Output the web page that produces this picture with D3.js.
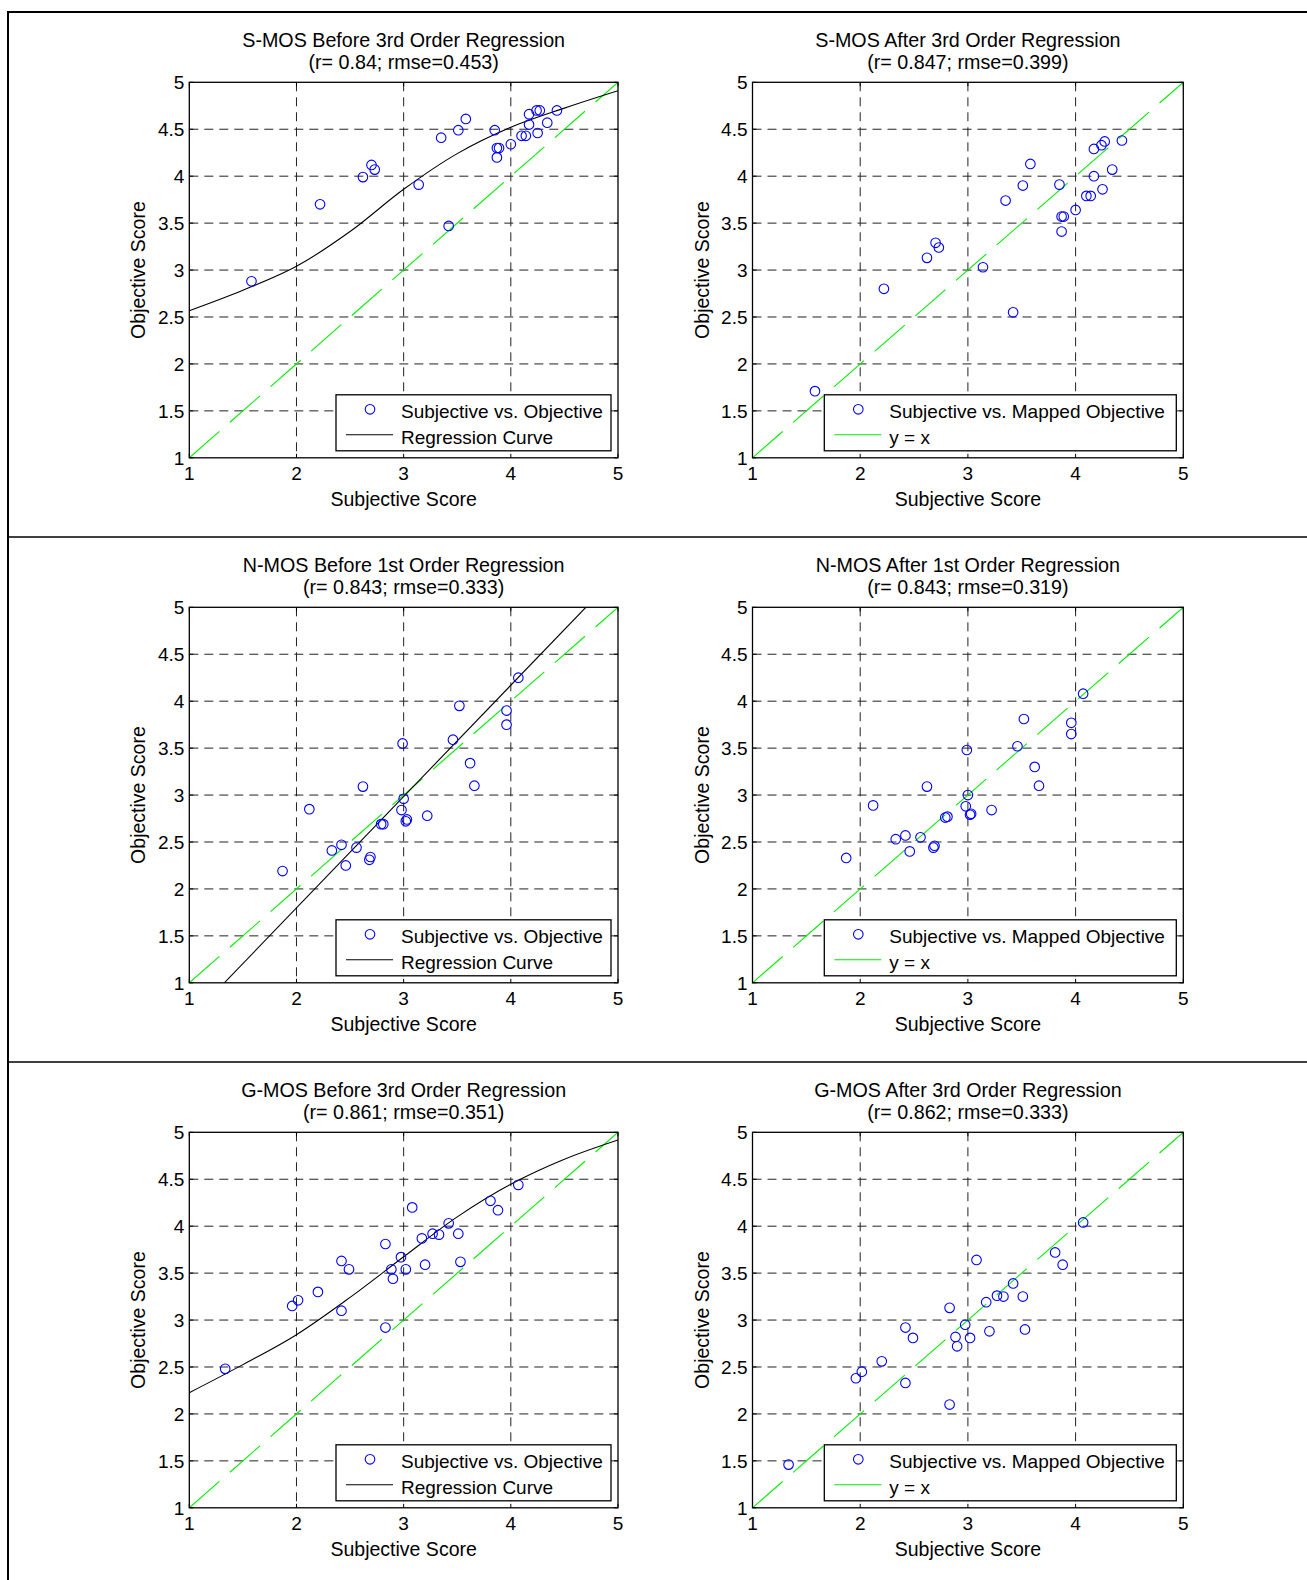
<!DOCTYPE html>
<html>
<head>
<meta charset="utf-8">
<script src="https://cdn.jsdelivr.net/npm/d3@7"></script>
<style>
  html, body { margin: 0; padding: 0; background: #fff; }
  svg text { font-family: "Liberation Sans", Arial, Helvetica, sans-serif; fill: #000; }
</style>
</head>
<body>
<svg id="chart" width="1307" height="1580"></svg>
<script>
// ---------------- DATA ----------------
const xTickValues = [1, 2, 3, 4, 5];
const xTickLabels = ["1", "2", "3", "4", "5"];
const yTickValues = [1, 1.5, 2, 2.5, 3, 3.5, 4, 4.5, 5];
const yTickLabels = ["1", "1.5", "2", "2.5", "3", "3.5", "4", "4.5", "5"];

const titlesBefore = ["S-MOS Before 3rd Order Regression", "N-MOS Before 1st Order Regression", "G-MOS Before 3rd Order Regression"];
const statsBefore = ["(r= 0.84; rmse=0.453)", "(r= 0.843; rmse=0.333)", "(r= 0.861; rmse=0.351)"];
const titlesAfter = ["S-MOS After 3rd Order Regression", "N-MOS After 1st Order Regression", "G-MOS After 3rd Order Regression"];
const statsAfter = ["(r= 0.847; rmse=0.399)", "(r= 0.843; rmse=0.319)", "(r= 0.862; rmse=0.333)"];

const legendBefore = ["Subjective vs. Objective", "Regression Curve"];
const legendAfter = ["Subjective vs. Mapped Objective", "y = x"];
const xAxisLabel = "Subjective Score";
const yAxisLabel = "Objective Score";

// S-MOS
const smosSubjective = [1.58, 2.22, 2.62, 2.70, 2.73, 3.14, 3.35, 3.51, 3.58, 3.42, 3.85, 3.87, 3.89, 3.87, 4.00, 4.10, 4.14, 4.17, 4.17, 4.24, 4.27, 4.25, 4.34, 4.43];
const smosObjectiveBefore = [2.88, 3.70, 3.99, 4.12, 4.07, 3.91, 4.41, 4.49, 4.61, 3.47, 4.49, 4.30, 4.30, 4.20, 4.34, 4.43, 4.43, 4.55, 4.66, 4.70, 4.70, 4.46, 4.57, 4.70];
const smosObjectiveAfter = [1.71, 2.80, 3.13, 3.29, 3.24, 3.03, 3.74, 3.90, 4.13, 2.55, 3.91, 3.57, 3.57, 3.41, 3.64, 3.79, 3.79, 4.00, 4.29, 4.33, 4.37, 3.86, 4.07, 4.38];
const smosCurveX = [1, 1.5, 2, 2.5, 3, 3.5, 4, 4.5, 5];
const smosCurveY = [2.567, 2.785, 3.04, 3.41, 3.86, 4.24, 4.52, 4.725, 4.91];

// N-MOS
const nmosSubjective = [1.87, 2.12, 2.33, 2.42, 2.46, 2.56, 2.62, 2.68, 2.69, 2.79, 2.81, 2.99, 3.00, 2.98, 3.03, 3.02, 3.22, 3.46, 3.52, 3.62, 3.66, 3.96, 3.96, 4.07];
const nmosObjectiveBefore = [2.19, 2.85, 2.41, 2.47, 2.25, 2.44, 3.09, 2.31, 2.34, 2.69, 2.69, 3.55, 2.96, 2.84, 2.74, 2.72, 2.78, 3.59, 3.95, 3.34, 3.10, 3.90, 3.75, 4.25];
const nmosObjectiveAfter = [2.33, 2.89, 2.53, 2.57, 2.40, 2.55, 3.09, 2.44, 2.46, 2.76, 2.77, 3.48, 3.00, 2.88, 2.80, 2.79, 2.84, 3.52, 3.81, 3.30, 3.10, 3.77, 3.65, 4.08];
const nmosCurveX = [1.327, 4.70];
const nmosCurveY = [1, 5];

// G-MOS
const gmosSubjective = [1.335, 1.96, 2.015, 2.20, 2.42, 2.49, 2.42, 2.83, 2.83, 2.885, 2.90, 2.975, 3.02, 3.08, 3.17, 3.27, 3.33, 3.20, 3.42, 3.51, 3.53, 3.81, 3.88, 4.07];
const gmosObjectiveBefore = [2.48, 3.15, 3.21, 3.30, 3.63, 3.54, 3.10, 3.81, 2.92, 3.54, 3.44, 3.67, 3.54, 4.20, 3.87, 3.92, 3.91, 3.59, 4.03, 3.92, 3.62, 4.27, 4.17, 4.44];
const gmosObjectiveAfter = [1.46, 2.38, 2.45, 2.56, 2.92, 2.81, 2.33, 3.13, 2.10, 2.82, 2.72, 2.95, 2.81, 3.64, 3.19, 3.26, 3.25, 2.88, 3.39, 3.25, 2.90, 3.72, 3.59, 4.04];
const gmosCurveX = [1, 1.5, 2, 2.5, 3, 3.5, 4, 4.5, 5];
const gmosCurveY = [2.226, 2.525, 2.844, 3.241, 3.674, 4.099, 4.447, 4.713, 4.918];

const identityX = [1, 5];
const identityY = [1, 5];

// ---------------- LAYOUT ----------------
const svg = d3.select("#chart");
const FONT = 19;
const TITLE_FONT = 19.7;
const LABEL_FONT = 19.5;
const rowStep = 525;
const colX = [[189.3, 618], [752.5, 1183.3]];
const plotTop0 = 82.3, plotH = 375.5;

const rows = [
  { subj: smosSubjective, before: smosObjectiveBefore, after: smosObjectiveAfter, cx: smosCurveX, cy: smosCurveY },
  { subj: nmosSubjective, before: nmosObjectiveBefore, after: nmosObjectiveAfter, cx: nmosCurveX, cy: nmosCurveY },
  { subj: gmosSubjective, before: gmosObjectiveBefore, after: gmosObjectiveAfter, cx: gmosCurveX, cy: gmosCurveY }
];

// outer frame lines
svg.append("line").attr("x1", 8).attr("x2", 1307).attr("y1", 12).attr("y2", 12).attr("stroke", "#000").attr("stroke-width", 2);
svg.append("line").attr("x1", 8).attr("x2", 8).attr("y1", 11).attr("y2", 1580).attr("stroke", "#000").attr("stroke-width", 2);
[1, 2].forEach(i => {
  svg.append("line").attr("x1", 8).attr("x2", 1307)
    .attr("y1", 12 + rowStep * i).attr("y2", 12 + rowStep * i)
    .attr("stroke", "#000").attr("stroke-width", 1.5);
});

let clipId = 0;
function drawPanel(col, row, xs, ys, curveX, curveY, isBefore, title, stat) {
  const [x0, x1] = colX[col];
  const y0 = plotTop0 + rowStep * row, y1 = y0 + plotH;
  const x = d3.scaleLinear().domain([1, 5]).range([x0, x1]);
  const y = d3.scaleLinear().domain([1, 5]).range([y1, y0]);
  const g = svg.append("g");

  const cid = "clip" + (clipId++);
  g.append("clipPath").attr("id", cid).append("rect")
    .attr("x", x0).attr("y", y0).attr("width", x1 - x0).attr("height", y1 - y0);

  g.append("rect").attr("x", x0).attr("y", y0).attr("width", x1 - x0).attr("height", y1 - y0).attr("fill", "#fff");

  // grid
  const grid = g.append("g").attr("stroke", "#222").attr("stroke-width", 1).attr("stroke-dasharray", "9,6");
  xTickValues.slice(1, -1).forEach(v => {
    grid.append("line").attr("x1", x(v)).attr("x2", x(v)).attr("y1", y0).attr("y2", y1);
  });
  yTickValues.slice(1, -1).forEach(v => {
    grid.append("line").attr("x1", x0).attr("x2", x1).attr("y1", y(v)).attr("y2", y(v));
  });

  const plotG = g.append("g").attr("clip-path", `url(#${cid})`);
  const line = d3.line().x(d => x(d[0])).y(d => y(d[1]));

  // y = x line (green)
  plotG.append("path").datum(identityX.map((v, i) => [v, identityY[i]]))
    .attr("d", line).attr("fill", "none").attr("stroke", "#00ee00").attr("stroke-width", 1.1)
    .attr("stroke-dasharray", "40,14");

  // regression curve
  if (isBefore) {
    const curveLine = d3.line().x(d => x(d[0])).y(d => y(d[1])).curve(d3.curveCatmullRom.alpha(0.5));
    plotG.append("path").datum(curveX.map((v, i) => [v, curveY[i]]))
      .attr("d", curveLine).attr("fill", "none").attr("stroke", "#000").attr("stroke-width", 1.1);
  }

  // points
  plotG.selectAll("circle.pt").data(xs.map((v, i) => [v, ys[i]])).enter().append("circle")
    .attr("class", "pt").attr("cx", d => x(d[0])).attr("cy", d => y(d[1])).attr("r", 4.8)
    .attr("fill", "none").attr("stroke", "#0000ff").attr("stroke-width", 1.1);

  // inner ticks
  const ticks = g.append("g").attr("stroke", "#000").attr("stroke-width", 1);
  xTickValues.forEach(v => {
    ticks.append("line").attr("x1", x(v)).attr("x2", x(v)).attr("y1", y1).attr("y2", y1 - 4);
    ticks.append("line").attr("x1", x(v)).attr("x2", x(v)).attr("y1", y0).attr("y2", y0 + 4);
  });
  yTickValues.forEach(v => {
    ticks.append("line").attr("x1", x0).attr("x2", x0 + 4).attr("y1", y(v)).attr("y2", y(v));
    ticks.append("line").attr("x1", x1).attr("x2", x1 - 4).attr("y1", y(v)).attr("y2", y(v));
  });

  // legend
  const lw = isBefore ? 275 : 352;
  const lh = 56;
  const lx = x1 - 7 - lw, ly = y1 - 7 - lh;
  const leg = g.append("g");
  leg.append("rect").attr("x", lx).attr("y", ly).attr("width", lw).attr("height", lh)
    .attr("fill", "#fff").attr("stroke", "#000").attr("stroke-width", 1.3);
  leg.append("circle").attr("cx", lx + 34).attr("cy", ly + 14.5).attr("r", 4.8)
    .attr("fill", "none").attr("stroke", "#0000ff").attr("stroke-width", 1.1);
  leg.append("line").attr("x1", lx + 10).attr("x2", lx + 57).attr("y1", ly + 40).attr("y2", ly + 40)
    .attr("stroke", isBefore ? "#000" : "#00ee00").attr("stroke-width", 1.1);
  const labels = isBefore ? legendBefore : legendAfter;
  leg.append("text").attr("x", lx + 65).attr("y", ly + 23).attr("font-size", FONT).text(labels[0]);
  leg.append("text").attr("x", lx + 65).attr("y", ly + 49).attr("font-size", FONT).text(labels[1]);

  // frame
  g.append("rect").attr("x", x0).attr("y", y0).attr("width", x1 - x0).attr("height", y1 - y0)
    .attr("fill", "none").attr("stroke", "#000").attr("stroke-width", 1.3);

  // tick labels
  xTickValues.forEach((v, i) => {
    g.append("text").attr("x", x(v)).attr("y", y1 + 22).attr("text-anchor", "middle")
      .attr("font-size", FONT).text(xTickLabels[i]);
  });
  yTickValues.forEach((v, i) => {
    g.append("text").attr("x", x0 - 5).attr("y", y(v) + 7).attr("text-anchor", "end")
      .attr("font-size", FONT).text(yTickLabels[i]);
  });

  // axis labels
  g.append("text").attr("x", (x0 + x1) / 2).attr("y", y1 + 48).attr("text-anchor", "middle")
    .attr("font-size", LABEL_FONT).text(xAxisLabel);
  g.append("text").attr("transform", `translate(${x0 - 44},${(y0 + y1) / 2}) rotate(-90)`)
    .attr("text-anchor", "middle").attr("font-size", LABEL_FONT).text(yAxisLabel);

  // titles
  g.append("text").attr("x", (x0 + x1) / 2).attr("y", y0 - 35).attr("text-anchor", "middle")
    .attr("font-size", TITLE_FONT).text(title);
  g.append("text").attr("x", (x0 + x1) / 2).attr("y", y0 - 13.5).attr("text-anchor", "middle")
    .attr("font-size", TITLE_FONT).text(stat);
}

rows.forEach((r, i) => {
  drawPanel(0, i, r.subj, r.before, r.cx, r.cy, true, titlesBefore[i], statsBefore[i]);
  drawPanel(1, i, r.subj, r.after, null, null, false, titlesAfter[i], statsAfter[i]);
});
</script>
</body>
</html>
